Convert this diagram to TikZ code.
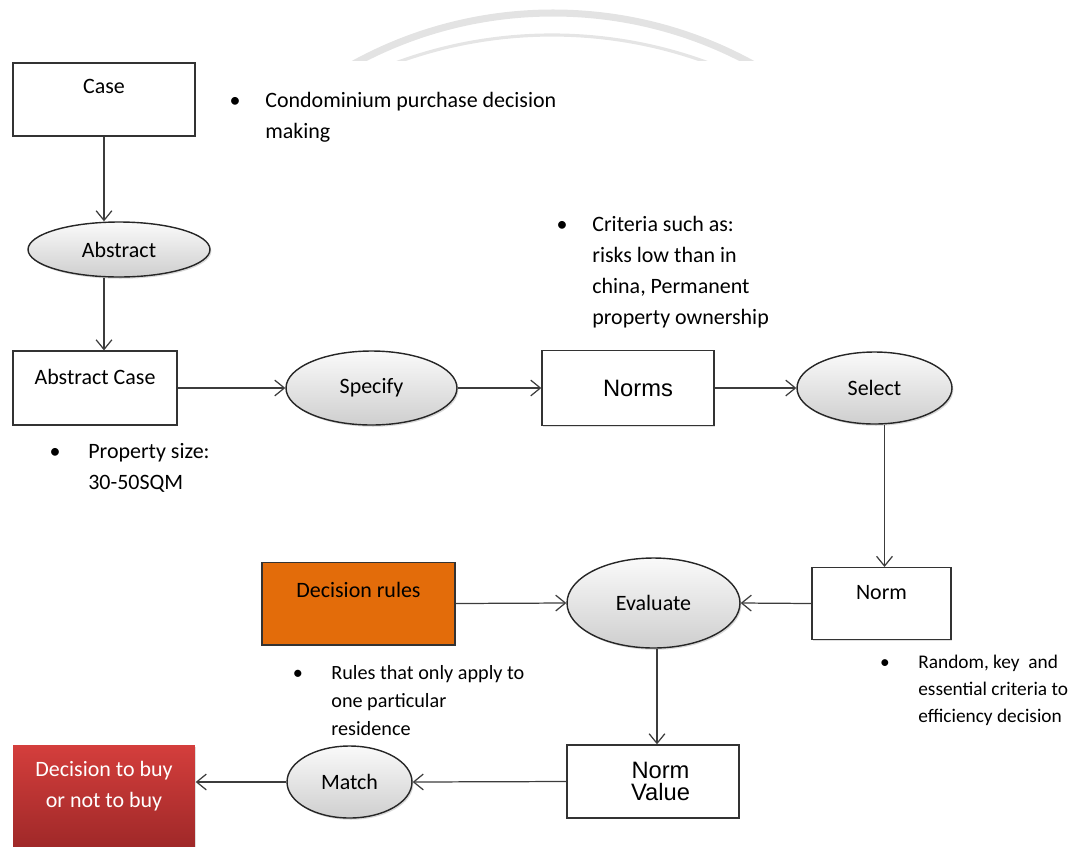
\documentclass[tikz,border=0pt]{standalone}
\usepackage{fontspec}
\setmainfont{Carlito}
\newfontfamily\arialf{Liberation Sans}
\usetikzlibrary{shapes.geometric,arrows.meta,shadows}

\definecolor{rulesorange}{HTML}{E36C0A}
\definecolor{buytop}{RGB}{212,62,60}
\definecolor{buybot}{RGB}{158,40,40}
\definecolor{linegray}{RGB}{60,60,60}

\tikzset{
  box/.style={draw=black!80, line width=0.8pt, fill=white, inner sep=0pt,
    drop shadow={shadow xshift=0.8pt, shadow yshift=-0.8pt, opacity=0.25}},
  proc/.style={ellipse, draw=black!85, line width=0.8pt, top color=gray!4,
    bottom color=gray!38, inner sep=0pt,
    drop shadow={shadow xshift=0.8pt, shadow yshift=-1pt, opacity=0.3}},
  arr/.style={draw=linegray, line width=0.7pt, -{Straight Barb[length=5.5pt,width=9pt]}},
  note/.style={anchor=base west, align=left, inner sep=0pt},
  bul/.style={anchor=base, inner sep=0pt}
}

\begin{document}
\begin{tikzpicture}[x=0.02cm, y=-0.02cm, font=\fontsize{12.5}{17.6}\selectfont]
\useasboundingbox (0,0) rectangle (1082,846);

% faint arc at the top
\begin{scope}
  \clip (200,0) rectangle (800,60);
  \draw[gray!22, line width=4pt] (553,428) circle (415);
  \draw[gray!20, line width=1.8pt] (552,485) circle (450);
\end{scope}

% boxes
\node[box, minimum width=3.64cm, text height=17.6pt, text depth=23.9pt] (case) at (104,99.5) {Case};
\node[box, minimum width=3.28cm, text height=19pt, text depth=23pt] (acase) at (95,388) {Abstract Case};
\node[box, minimum width=3.44cm, minimum height=1.5cm, font=\arialf\fontsize{13.5}{15}\selectfont] (norms) at (628,388) {\hspace*{0.4cm}Norms};
\node[box, minimum width=2.78cm, text height=17.9pt, text depth=22.9pt] (norm) at (881.5,603.5) {Norm};
\node[box, fill=rulesorange, minimum width=3.86cm, text height=20.1pt, text depth=26.9pt] (rules) at (358.5,603.5) {Decision rules};
\node[box, minimum width=3.44cm, minimum height=1.46cm, align=center, font=\arialf\fontsize{13.5}{13}\selectfont] (nval) at (653,781.5) {\hspace*{0.3cm}Norm\\\hspace*{0.3cm}Value};
\node[box, draw=none, top color=buytop, bottom color=buybot, text=white, align=center, minimum width=3.64cm, text height=35.5pt, text depth=24pt] (buy) at (104,797.5) {Decision to buy\\or not to buy};

% ellipses
\node[proc, minimum width=3.64cm, minimum height=1.1cm] (abs) at (119,249.5) {Abstract};
\node[proc, minimum width=3.42cm, minimum height=1.48cm] (spec) at (371.5,388) {Specify};
\node[proc, minimum width=3.1cm, minimum height=1.44cm] (sel) at (874.5,388) {Select};
\node[proc, minimum width=3.46cm, minimum height=1.8cm] (eval) at (653.5,603) {Evaluate};
\node[proc, minimum width=2.5cm, minimum height=1.44cm] (match) at (349.5,782) {Match};

% arrows
\draw[arr] (case.south) -- (case.south |- abs.north);
\draw[arr] (case.south |- abs.south) -- (case.south |- acase.north);
\draw[arr] (acase.east) -- (spec.west);
\draw[arr] (spec.east) -- (norms.west);
\draw[arr] (norms.east) -- (sel.west);
\draw[arr] ([xshift=0.2cm]sel.south) -- ([xshift=0.2cm]sel.south |- norm.north);
\draw[arr] (norm.west) -- (eval.east);
\draw[arr] (rules.east) -- (eval.west);
\draw[arr] ([xshift=0.07cm]eval.south) -- ([xshift=0.07cm]eval.south |- nval.north);
\draw[arr] (nval.west) -- (match.east);
\draw[arr] (match.west) -- (buy.east |- match.west);

% bullet notes (base = last line)
\node[bul] (b1) at (235,107) {\textbullet};
\node[note] (n1) at (265,138) {Condominium purchase decision\\making};
\node[bul] (b2) at (562,231) {\textbullet};
\node[note] (n2) at (592,324) {Criteria such as:\\risks low than in\\china, Permanent\\property ownership};
\node[bul] (b3) at (55,458) {\textbullet};
\node[note] (n3) at (88,489) {Property size:\\30-50SQM};
\node[bul, font=\fontsize{11.5}{15.9}\selectfont] (b4) at (298,679) {\textbullet};
\node[note, font=\fontsize{11.5}{15.9}\selectfont] (n4) at (331,735) {Rules that only apply to\\one particular\\residence};
\node[bul, font=\fontsize{11}{15.3}\selectfont] (b5) at (885,668) {\textbullet};
\node[note, font=\fontsize{11}{15.3}\selectfont] (n5) at (918,722) {Random, key\ \ and\\essential criteria to\\efficiency decision};
\end{tikzpicture}
\end{document}
